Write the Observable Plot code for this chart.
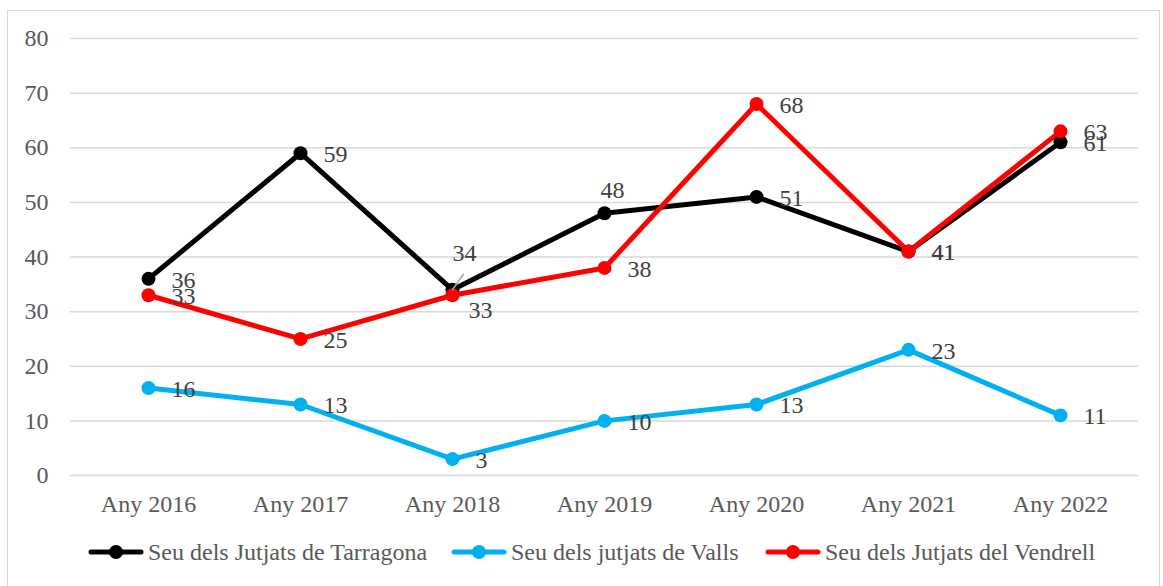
<!DOCTYPE html>
<html>
<head>
<meta charset="utf-8">
<script src="https://cdn.jsdelivr.net/npm/d3@7"></script>
<script src="https://cdn.jsdelivr.net/npm/@observablehq/plot@0.6"></script>
<style>
  html, body { margin: 0; padding: 0; background: #fff; font-family: 'Liberation Serif', 'Times New Roman', serif; }
  #frame { position: absolute; left: 7px; top: 10px; width: 1153px; height: 600px; border: 1.5px solid #d9d9d9; box-sizing: border-box; }
  #chart { position: absolute; left: 0; top: 0; }
  #legend { position: absolute; left: 0; top: 538px; width: 1163px; height: 28px; }
  .item { position: absolute; top: 0; height: 28px; display: flex; align-items: center; white-space: nowrap; font-family: 'Liberation Serif', 'Times New Roman', serif; font-size: 24px; color: #595959; }
  .item svg { margin-right: 4px; }
</style>
</head>
<body>
<div id="frame"></div>
<div id="chart"></div>
<div id="legend"></div>
<script>
const years = ["Any 2016", "Any 2017", "Any 2018", "Any 2019", "Any 2020", "Any 2021", "Any 2022"];
const seriesNames = ["Seu dels Jutjats de Tarragona", "Seu dels jutjats de Valls", "Seu dels Jutjats del Vendrell"];
const tarragona = [36, 59, 34, 48, 51, 41, 61];
const valls = [16, 13, 3, 10, 13, 23, 11];
const vendrell = [33, 25, 33, 38, 68, 41, 63];
const seriesColors = ["#000000", "#00b0f0", "#ff0000"];
const yTicks = [0, 10, 20, 30, 40, 50, 60, 70, 80];

const FONT = "'Liberation Serif', 'Times New Roman', serif";
const allValues = [tarragona, valls, vendrell];
const data = [];
allValues.forEach((vals, si) => {
  vals.forEach((v, i) => data.push({series: seriesNames[si], year: years[i], value: v}));
});

// label placement exceptions
const isAbove = d => (d.series === seriesNames[0] && (d.year === "Any 2018" || d.year === "Any 2019"));
const isBelow = d => (d.series === seriesNames[2] && d.year === "Any 2018");
const rightLabels = data.filter(d => !isAbove(d) && !isBelow(d));
const leaderShape = { draw(ctx, l) { ctx.moveTo(0, 0); ctx.lineTo(0, -l); } };
const labelOpts = { x: "year", y: "value", text: d => String(d.value), fill: "#404040", fontSize: 24, fontFamily: FONT };

const chart = Plot.plot({
  width: 1163,
  height: 525,
  marginLeft: 70,
  marginRight: 25,
  marginTop: 38,
  marginBottom: 50,
  style: `font-family: ${FONT}; font-size: 24px; color: #595959; background: transparent; overflow: visible;`,
  x: { type: "point", domain: years, padding: 0.5 },
  y: { domain: [0, 80] },
  color: { domain: seriesNames, range: seriesColors },
  marks: [
    Plot.ruleY(yTicks, { stroke: "#d9d9d9", strokeWidth: 1.5 }),
    Plot.axisY({ ticks: yTicks, label: null, tickSize: 0, tickPadding: 22, fontSize: 24, fontFamily: FONT, fill: "#595959" }),
    Plot.axisX({ label: null, tickSize: 0, tickPadding: 19, fontSize: 24, fontFamily: FONT, fill: "#595959" }),
    Plot.line(data, { x: "year", y: "value", z: "series", stroke: "series", strokeWidth: 5, strokeLinejoin: "round" }),
    Plot.dot(data, { x: "year", y: "value", fill: "series", r: 7 }),
    Plot.vector(data.filter(d => d.series === seriesNames[0] && d.year === "Any 2018"), { x: "year", y: "value", length: 19, rotate: 35, anchor: "start", stroke: "#a6a6a6", strokeWidth: 1.5, shape: leaderShape }),
    Plot.text(rightLabels, { ...labelOpts, textAnchor: "start", dx: 23, dy: 1 }),
    Plot.text(data.filter(d => isAbove(d) && d.year === "Any 2018"), { ...labelOpts, dx: 12, dy: -36 }),
    Plot.text(data.filter(d => isAbove(d) && d.year === "Any 2019"), { ...labelOpts, dx: 8, dy: -23 }),
    Plot.text(data.filter(isBelow), { ...labelOpts, dx: 28, dy: 15 })
  ]
});
document.getElementById("chart").appendChild(chart);

const legend = document.getElementById("legend");
const legendLeft = [88, 451, 765];
seriesNames.forEach((name, i) => {
  const item = document.createElement("div");
  item.className = "item";
  item.style.left = legendLeft[i] + "px";
  const c = seriesColors[i];
  item.innerHTML = `<svg width="56" height="24"><line x1="3" y1="12" x2="53" y2="12" stroke="${c}" stroke-width="5" stroke-linecap="round"/><circle cx="28" cy="12" r="7" fill="${c}"/></svg><span>${name}</span>`;
  legend.appendChild(item);
});
</script>
</body>
</html>
